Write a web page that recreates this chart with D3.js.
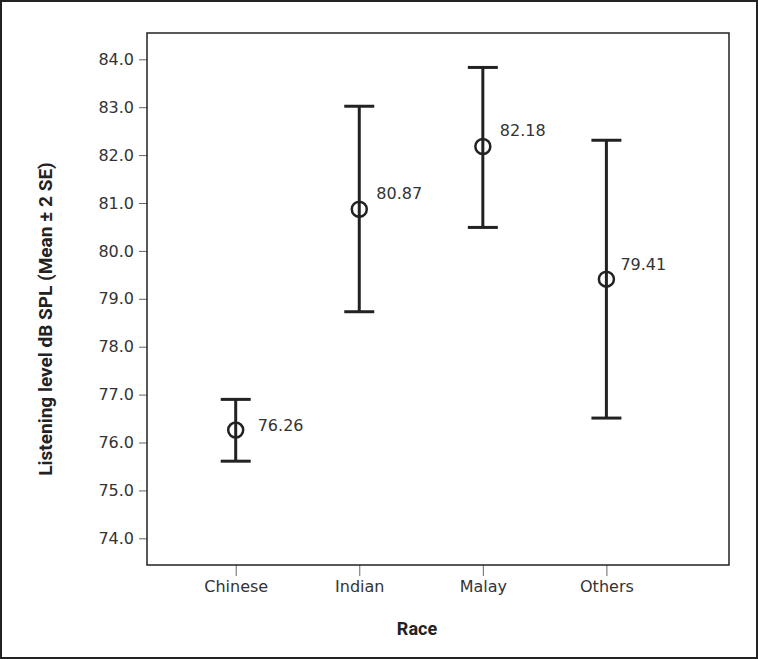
<!DOCTYPE html>
<html>
<head>
<meta charset="utf-8">
<script src="https://cdn.jsdelivr.net/npm/d3@7"></script>
<style>
  body { margin: 0; background: #fff; }
  text { font-family: "DejaVu Sans", sans-serif; }
  .title { font-family: Roboto, "Noto Sans", sans-serif; }
</style>
</head>
<body>
<div id="plot"></div>
<script>
// data
let categories = ['Chinese', 'Indian', 'Malay', 'Others'];
let means = [76.26, 80.87, 82.18, 79.41];
let upper = [76.90, 83.02, 83.83, 82.31];   // mean + 2 SE
let lower = [75.61, 78.73, 80.49, 76.51];   // mean - 2 SE
let yTicks = [74, 75, 76, 77, 78, 79, 80, 81, 82, 83, 84];

let width = 758, height = 659;
let box = { left: 147, top: 33, right: 729, bottom: 565 };

let svg = d3.select('#plot')
  .append('svg')
  .attr('width', width)
  .attr('height', height);

// outer frame of the figure
svg.append('rect')
  .attr('x', 1).attr('y', 1)
  .attr('width', width - 2).attr('height', height - 2)
  .attr('fill', '#fff')
  .attr('stroke', '#222')
  .attr('stroke-width', 2);

let yScale = d3.scaleLinear()
  .domain([74, 84])
  .range([538.3, 59.3]);

let xScale = d3.scalePoint()
  .domain(categories)
  .range([235.7, 606.4]);

// y axis
let yAxis = svg.append('g')
  .attr('transform', `translate(${box.left},0)`)
  .call(d3.axisLeft(yScale).tickValues(yTicks).tickFormat(d3.format('.1f')).tickSize(8).tickPadding(5));
yAxis.select('.domain').remove();
yAxis.selectAll('.tick line').attr('stroke', '#666');
yAxis.selectAll('.tick text')
  .attr('fill', '#333')
  .style('font-size', '16px');

// x axis
let xAxis = svg.append('g')
  .attr('transform', `translate(0,${box.bottom})`)
  .call(d3.axisBottom(xScale).tickSize(11).tickPadding(5));
xAxis.select('.domain').remove();
xAxis.selectAll('.tick line').attr('stroke', '#666');
xAxis.selectAll('.tick text')
  .attr('fill', '#333')
  .style('font-size', '16px');

// plot frame
svg.append('rect')
  .attr('x', box.left).attr('y', box.top)
  .attr('width', box.right - box.left).attr('height', box.bottom - box.top)
  .attr('fill', 'none')
  .attr('stroke', '#222')
  .attr('stroke-width', 1.5);

let rows = categories.map((c, i) => ({ c: c, mean: means[i], hi: upper[i], lo: lower[i] }));
let capHalf = 15;
let ink = '#222';

let bars = svg.selectAll('g.bar')
  .data(rows)
  .enter()
  .append('g')
  .attr('class', 'bar');

bars.append('line')
  .attr('x1', d => xScale(d.c)).attr('x2', d => xScale(d.c))
  .attr('y1', d => yScale(d.hi)).attr('y2', d => yScale(d.lo))
  .attr('stroke', ink).attr('stroke-width', 3);

bars.append('line')
  .attr('x1', d => xScale(d.c) - capHalf).attr('x2', d => xScale(d.c) + capHalf)
  .attr('y1', d => yScale(d.hi)).attr('y2', d => yScale(d.hi))
  .attr('stroke', ink).attr('stroke-width', 3);

bars.append('line')
  .attr('x1', d => xScale(d.c) - capHalf).attr('x2', d => xScale(d.c) + capHalf)
  .attr('y1', d => yScale(d.lo)).attr('y2', d => yScale(d.lo))
  .attr('stroke', ink).attr('stroke-width', 3);

bars.append('circle')
  .attr('cx', d => xScale(d.c))
  .attr('cy', d => yScale(d.mean))
  .attr('r', 7.5)
  .attr('fill', 'none')
  .attr('stroke', ink)
  .attr('stroke-width', 2.5);

// value labels, nudged as in the original
let nudge = { Chinese: [22, -5], Indian: [17, -16], Malay: [17, -16], Others: [14, -15] };
bars.append('text')
  .attr('x', d => xScale(d.c) + nudge[d.c][0])
  .attr('y', d => yScale(d.mean) + nudge[d.c][1])
  .attr('dy', '0.35em')
  .attr('fill', '#333')
  .style('font-size', '16px')
  .text(d => d.mean.toFixed(2));

// axis titles
svg.append('text')
  .attr('class', 'title')
  .attr('transform', 'translate(52,319) rotate(-90)')
  .attr('text-anchor', 'middle')
  .attr('fill', '#222')
  .style('font-size', '19px')
  .style('font-weight', 'bold')
  .text('Listening level dB SPL (Mean ± 2 SE)');

svg.append('text')
  .attr('class', 'title')
  .attr('x', 417)
  .attr('y', 629)
  .attr('dy', '0.35em')
  .attr('text-anchor', 'middle')
  .attr('fill', '#222')
  .style('font-size', '18px')
  .style('font-weight', 'bold')
  .text('Race');
</script>
</body>
</html>
